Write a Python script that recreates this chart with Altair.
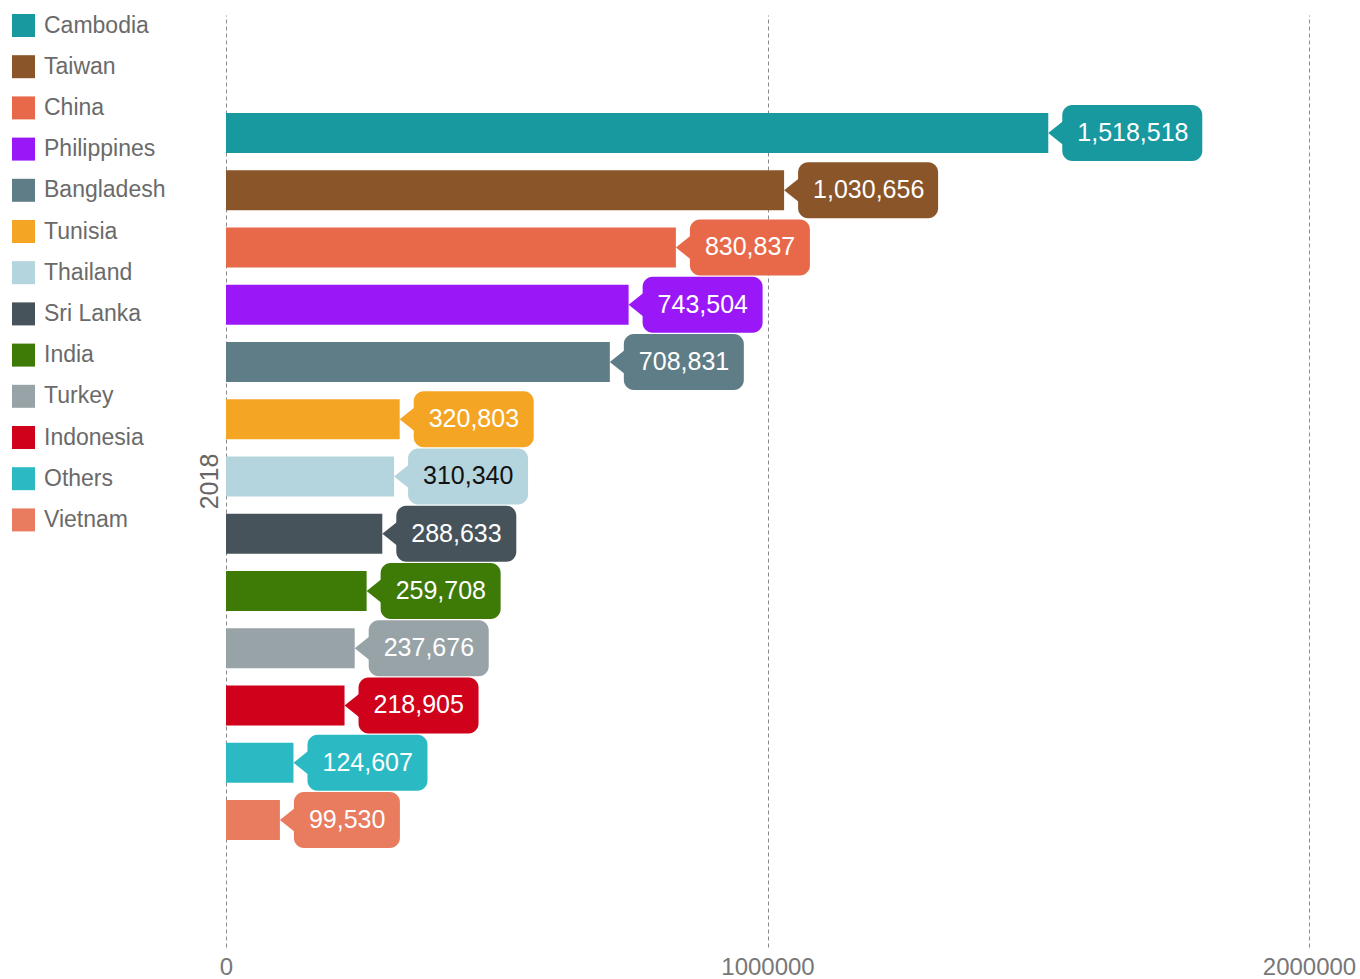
import altair as alt
import pandas as pd

countries = ["Cambodia", "Taiwan", "China", "Philippines", "Bangladesh", "Tunisia",
             "Thailand", "Sri Lanka", "India", "Turkey", "Indonesia", "Others", "Vietnam"]
values = [1518518, 1030656, 830837, 743504, 708831, 320803,
          310340, 288633, 259708, 237676, 218905, 124607, 99530]
colors = ["#17999f", "#8a5529", "#e8694a", "#9a18f7", "#5f7d86", "#f5a524",
          "#b4d5dd", "#46535a", "#3e7a06", "#98a3a7", "#d0021b", "#2bbac4", "#e97b5f"]
year = "2018"

df = pd.DataFrame({"country": countries, "value": values})

FONT = "Liberation Sans"

# spacer slots above and below the bars
y_domain = ["__top__"] + countries + ["__bottom__"]
y_scale = alt.Scale(domain=y_domain, paddingInner=0.3, paddingOuter=0.79, align=0.45)

y_enc = alt.Y("country:N", scale=y_scale,
              axis=alt.Axis(title=year, labels=False, ticks=False, domain=False, grid=False,
                            titleFontSize=25, titleColor="#666666", titleFont=FONT,
                            titleFontWeight="normal", titlePadding=4))
y_plain = alt.Y("country:N", scale=y_scale)
x_scale = alt.Scale(domain=[0, 2000000], nice=False, zero=True)
color_enc = alt.Color("country:N",
                      scale=alt.Scale(domain=countries, range=colors),
                      legend=alt.Legend(title=None, orient="none", legendX=-214, legendY=-1,
                                        symbolType="square", symbolSize=529, symbolStrokeWidth=0,
                                        labelFontSize=23, labelColor="#6a6a6a", labelFont=FONT,
                                        labelOffset=9, rowPadding=17.2, labelLimit=300))
color_plain = alt.Color("country:N", scale=alt.Scale(domain=countries, range=colors), legend=None)

base = alt.Chart(df).transform_calculate(label="format(datum.value, ',')")

bars = base.mark_bar(size=40).encode(
    x=alt.X("value:Q", scale=x_scale,
            axis=alt.Axis(title=None, values=[0, 1000000, 2000000], format="d",
                          ticks=False, domain=False, grid=True, gridDash=[4, 3],
                          gridColor="#8a8a8a", gridWidth=1, labelFlush=False,
                          labelFontSize=24, labelColor="#777777", labelFont=FONT,
                          labelPadding=8)),
    y=y_enc,
    color=color_enc,
)

layers = [bars]
box_widths = {9: 140, 7: 120, 6: 106}
for n, w in box_widths.items():
    layers.append(
        base.transform_filter(f"length(datum.label) == {n}")
        .mark_bar(size=56, cornerRadius=10, xOffset=14, x2Offset=14 + w)
        .encode(x="value:Q", x2="value:Q", y=y_plain, color=color_plain)
    )

arrow = base.mark_point(shape="M -0.625 0 L 0.625 -1 L 0.625 1 Z", filled=True, opacity=1,
                        size=576, xOffset=7.5, strokeWidth=0).encode(
    x="value:Q", y=y_plain, color=color_plain)
layers.append(arrow)

text = base.mark_text(align="left", baseline="middle", dx=29, fontSize=25, font=FONT).encode(
    x="value:Q", y=y_plain,
    text="label:N",
    color=alt.condition("datum.country == 'Thailand'", alt.value("#111111"), alt.value("#ffffff")))
layers.append(text)

chart = alt.layer(*layers).properties(
    width=1083, height=932,
    autosize=alt.AutoSizeParams(type="none"),
    padding={"left": 226, "top": 15, "right": 51, "bottom": 32},
    background="#ffffff",
).configure_view(stroke=None)

chart.save("out.html", embed_options={"renderer": "svg", "actions": False})
